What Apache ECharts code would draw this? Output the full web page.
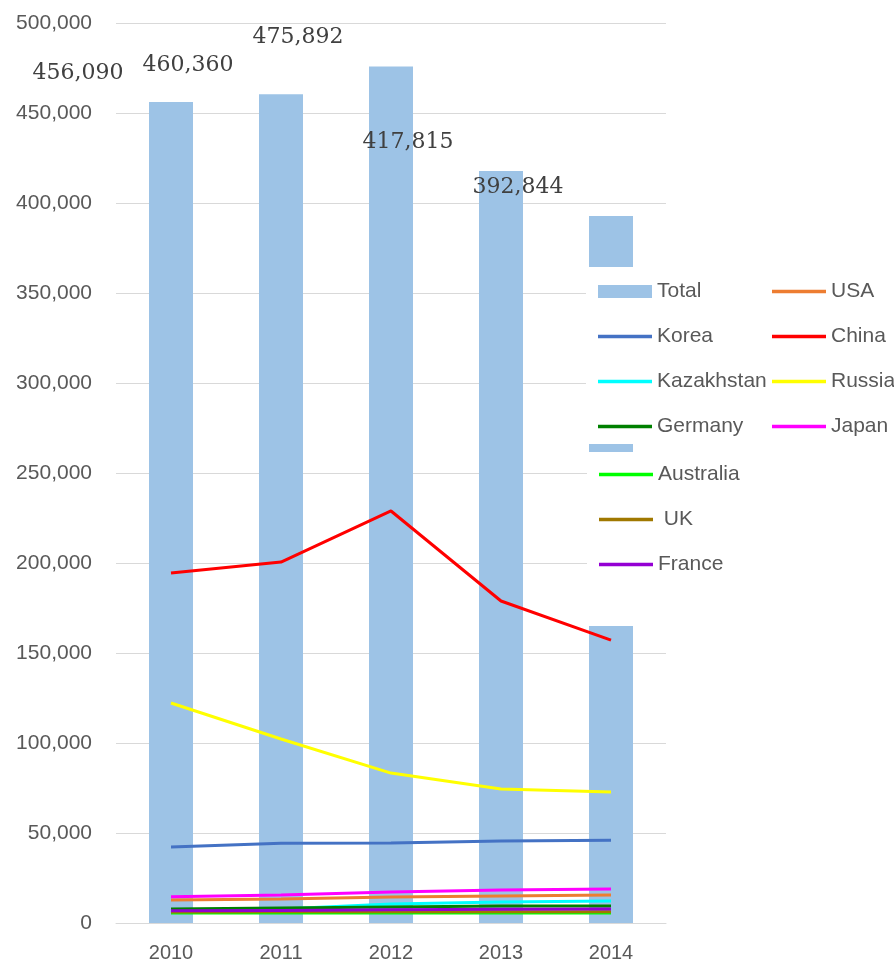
<!doctype html>
<html lang="en">
<head>
    <meta charset="UTF-8">
    <title>Total and by country</title>
    <script src="https://cdn.jsdelivr.net/npm/echarts@6/dist/echarts.min.js"></script>
    <style>
        html, body { margin: 0; padding: 0; background: #fff; }
        #main { width: 894px; height: 965px; }
    </style>
</head>
<body>
<div id="main"></div>
<script>
    var years = ['2010', '2011', '2012', '2013', '2014'];

    var total = [456090, 460360, 475892, 417815, 392844];
    var usa = [12800, 13300, 14400, 15000, 15500];
    var korea = [42200, 44300, 44400, 45500, 46000];
    var china = [194400, 200500, 228900, 178900, 157200];
    var kazakhstan = [6300, 7800, 10500, 11700, 12200];
    var russia = [122200, 102200, 83300, 74400, 72800];
    var germany = [7800, 8300, 8900, 9400, 9400];
    var japan = [14600, 15500, 17200, 18300, 18900];
    var australia = [5600, 5600, 5600, 5600, 5600];
    var uk = [6100, 6200, 6200, 6300, 6300];
    var france = [6800, 7000, 7300, 7600, 7800];

    var yTicks = [0, 50000, 100000, 150000, 200000, 250000, 300000, 350000, 400000, 450000, 500000];

    var txt = '#595959';
    var sans = 'Liberation Sans, Arial, sans-serif';
    // thin bar used as legend icon for the lines
    var lineIcon = 'path://M0,0H54V3.4H0Z';

    function fmt(v) {
        return v.toLocaleString('en-US');
    }

    function lineSeries(name, data, color) {
        return {
            name: name,
            type: 'line',
            data: data,
            symbol: 'none',
            lineStyle: {color: color, width: 3},
            itemStyle: {color: color},
            emphasis: {disabled: true}
        };
    }

    function items(names) {
        return names.map(function (n) {
            return n === 'Total' ? {name: n, icon: 'rect'} : {name: n, icon: lineIcon};
        });
    }

    var legendBase = {
        orient: 'vertical',
        backgroundColor: '#fff',
        itemWidth: 54,
        itemHeight: 13,
        itemGap: 24,
        textStyle: {color: txt, fontSize: 21, lineHeight: 21, fontFamily: sans}
    };

    var myChart = echarts.init(document.getElementById('main'));
    var option = {
        animation: false,
        backgroundColor: '#fff',
        grid: {left: 116, top: 23, width: 550, bottom: 42, containLabel: false},
        xAxis: {
            type: 'category',
            data: years,
            axisTick: {show: false},
            axisLine: {lineStyle: {color: '#d9d9d9'}},
            axisLabel: {color: txt, fontSize: 20, fontFamily: sans, margin: 20}
        },
        yAxis: {
            type: 'value',
            min: yTicks[0],
            max: yTicks[yTicks.length - 1],
            interval: 50000,
            axisLine: {show: false},
            axisTick: {show: false},
            splitLine: {lineStyle: {color: '#d9d9d9'}},
            axisLabel: {color: txt, fontSize: 21, fontFamily: sans, margin: 24, formatter: fmt}
        },
        legend: [
            Object.assign({}, legendBase, {
                left: 586, top: 267, padding: [14, 0, 7, 12],
                data: items(['Total', 'Korea', 'Kazakhstan', 'Germany'])
            }),
            Object.assign({}, legendBase, {
                left: 760, top: 267, padding: [14, 20, 7, 12],
                data: items(['USA', 'China', 'Russia', 'Japan'])
            }),
            Object.assign({}, legendBase, {
                left: 587, top: 452, padding: [12, 20, 51, 12],
                data: items(['Australia', ' UK', 'France'])
            })
        ],
        series: [
            {
                name: 'Total',
                type: 'bar',
                data: total,
                barWidth: 44,
                itemStyle: {color: '#9dc3e6'},
                label: {
                    show: true,
                    position: 'top',
                    offset: [-93, -13],
                    color: '#404040',
                    fontSize: 22,
                    fontFamily: 'DejaVu Serif, serif',
                    formatter: function (p) { return fmt(p.value); }
                },
                emphasis: {disabled: true}
            },
            lineSeries('USA', usa, '#ed7d31'),
            lineSeries('Korea', korea, '#4472c4'),
            lineSeries('China', china, '#ff0000'),
            lineSeries('Kazakhstan', kazakhstan, '#00ffff'),
            lineSeries('Russia', russia, '#ffff00'),
            lineSeries('Germany', germany, '#008000'),
            lineSeries('Japan', japan, '#ff00ff'),
            lineSeries('Australia', australia, '#00ff00'),
            lineSeries(' UK', uk, '#a07800'),
            lineSeries('France', france, '#9400d3')
        ]
    };
    myChart.setOption(option);
</script>
</body>
</html>
